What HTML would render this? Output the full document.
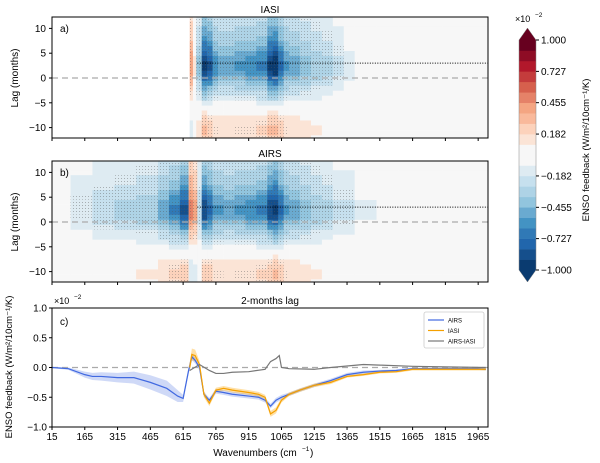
<!DOCTYPE html>
<html><head><meta charset="utf-8"><style>
html,body{margin:0;padding:0;background:#fff;}
svg{display:block;font-family:"Liberation Sans","DejaVu Sans",sans-serif;}
</style></head><body>
<svg id="fig" width="600" height="463" viewBox="0 0 600 463">
<defs>
<pattern id="stip" width="3" height="3" patternUnits="userSpaceOnUse"><circle cx="1.5" cy="1.5" r="0.45" fill="#555"/></pattern>
</defs>
</svg>
<script>
// ---- data ----
const xTicks = [15,165,315,465,615,765,915,1065,1215,1365,1515,1665,1815,1965];
const lagTicks = [10,5,0,-5,-10];
const cTicks = [1.0,0.5,0.0,-0.5,-1.0];
const cbTicks = [1.000,0.727,0.455,0.182,-0.182,-0.455,-0.727,-1.000];
const lags = [-12,-11,-10,-9,-8,-7,-6,-5,-4,-3,-2,-1,0,1,2,3,4,5,6,7,8,9,10,11,12];
const lagProfile = [-0.25,-0.3,-0.3,-0.25,-0.2,-0.1,0,0.15,0.3,0.4,0.5,0.65,0.8,0.95,1.0,1.0,0.95,0.85,0.75,0.68,0.6,0.55,0.5,0.45,0.4];
const iasiEdges = [645,660,675,700,725,750,775,800,850,900,950,1000,1025,1050,1075,1100,1150,1200,1250,1300,1350,1400,1500,1600,1700,1800,1900,2010];
const iasiAmp = [0.45,0.1,-0.4,-0.95,-0.85,-0.6,-0.5,-0.5,-0.55,-0.6,-0.65,-0.95,-1.0,-0.75,-0.55,-0.5,-0.42,-0.35,-0.3,-0.2,-0.12,-0.06,-0.03,-0.02,-0.01,-0.01,-0.01];
const airsEdges = [15,100,200,300,400,500,550,600,640,660,680,700,725,750,800,850,900,950,1000,1025,1050,1075,1100,1150,1200,1250,1300,1400,1500,1600,1800,2010];
const airsAmp = [-0.06,-0.18,-0.25,-0.3,-0.35,-0.5,-0.65,-0.85,0.5,0.4,-0.25,-0.9,-0.75,-0.55,-0.5,-0.55,-0.6,-0.65,-0.9,-0.95,-0.75,-0.55,-0.5,-0.42,-0.35,-0.3,-0.2,-0.1,-0.05,-0.02,-0.01];
const airsWn = [15,90,165,200,240,315,390,465,540,590,615,640,655,670,690,710,735,765,800,840,915,960,990,1015,1040,1065,1100,1150,1215,1290,1365,1440,1515,1590,1665,1740,1815,1890,1965,2000];
const airsVal = [0,-0.02,-0.12,-0.15,-0.15,-0.17,-0.17,-0.25,-0.35,-0.48,-0.52,-0.05,0.18,0.12,0.0,-0.45,-0.55,-0.4,-0.42,-0.45,-0.48,-0.5,-0.55,-0.65,-0.55,-0.5,-0.45,-0.38,-0.3,-0.22,-0.12,-0.08,-0.06,-0.05,-0.02,-0.02,-0.02,-0.02,-0.02,-0.03];
const airsErr = [0.01,0.02,0.05,0.06,0.07,0.08,0.1,0.12,0.13,0.1,0.06,0.06,0.06,0.05,0.05,0.04,0.04,0.04,0.04,0.04,0.04,0.04,0.04,0.04,0.04,0.04,0.03,0.03,0.03,0.03,0.03,0.03,0.02,0.02,0.02,0.02,0.02,0.02,0.02,0.02];
const iasiWn = [645,655,670,690,710,735,765,800,840,915,960,990,1015,1040,1065,1100,1150,1215,1290,1365,1440,1515,1590,1665,1740,1815,1890,1965,2000];
const iasiVal = [0.0,0.22,0.2,0.05,-0.45,-0.6,-0.38,-0.35,-0.38,-0.42,-0.45,-0.5,-0.78,-0.72,-0.55,-0.45,-0.38,-0.3,-0.25,-0.15,-0.12,-0.08,-0.07,-0.03,-0.03,-0.03,-0.03,-0.03,-0.03];
const iasiErr = [0.08,0.1,0.1,0.06,0.05,0.05,0.04,0.04,0.04,0.04,0.04,0.04,0.05,0.05,0.04,0.03,0.03,0.03,0.03,0.02,0.02,0.02,0.02,0.02,0.02,0.02,0.02,0.02,0.02];
const diffWn = [645,690,735,765,800,840,915,990,1015,1040,1055,1065,1100,1215,1290,1440,1515,1665,2000];
const diffVal = [-0.05,0.05,-0.05,-0.1,-0.1,-0.08,-0.07,-0.03,0.1,0.15,0.2,0.0,-0.02,-0.03,0.0,0.05,0.04,0.02,0.0];
const cmap = ['#0a3b70','#154f8c','#2166ac','#3079b6','#4393c3','#6aaad0','#92c5de','#aed3e6','#c6e0ee','#deebf2','#f7f7f7','#f7f7f7','#fbe4d6','#fcd2bb','#f9b99b','#f4a582','#e58268','#d6604d','#c43c3c','#b2182b','#8e0c25','#67001f'];

// ---- helpers ----
const NS='http://www.w3.org/2000/svg';
const svg=document.getElementById('fig');
function el(tag,attrs,parent){const e=document.createElementNS(NS,tag);for(const k in attrs)e.setAttribute(k,attrs[k]);(parent||svg).appendChild(e);return e;}
function txt(s,x,y,attrs,parent){const t=el('text',Object.assign({x:x,y:y,'font-size':10,fill:'#000'},attrs),parent);t.textContent=s;return t;}
const L=52,R=488;
const X=w=>L+(w-15)*(R-L)/(2010-15);
function colorOf(v){let i=Math.floor((v+1)/2*22);i=Math.max(0,Math.min(21,i));return cmap[i];}

function heatPanel(top,edges,amp,name,title,letter){
  const g=el('g',{});
  
  
  const Y=l=>top+61-l*4.96;
  el('rect',{x:L,y:top,width:R-L,height:121,fill:'#fff'},g);
  for(let i=0;i<amp.length;i++){
    for(let j=0;j<lags.length;j++){
      const v=amp[i]*lagProfile[j];
      const x0=X(edges[i]),x1=X(edges[i+1]);
      const y0=Math.max(top,Y(lags[j]+0.5)),y1=Math.min(top+121,Y(lags[j]-0.5));
      const c=el('rect',{x:x0,y:y0,width:x1-x0+0.3,height:y1-y0+0.3,fill:colorOf(v)},g);
      
      
      if(Math.abs(v)>0.15) el('rect',{x:x0,y:y0,width:x1-x0,height:y1-y0,fill:'url(#stip)',opacity:0.6},g);
    }
  }
  const z=el('line',{x1:L,x2:R,y1:Y(0),y2:Y(0),stroke:'#aaa','stroke-width':1.3,'stroke-dasharray':'6,4'},g);
  
  el('line',{x1:X(Math.max(edges[0],680)),x2:R,y1:Y(3),y2:Y(3),stroke:'#000','stroke-width':1,'stroke-dasharray':'1,1.5'},g);
  el('rect',{x:L,y:top,width:R-L,height:121,fill:'none',stroke:'#000','stroke-width':1},g);
  lagTicks.forEach(t=>{el('line',{x1:L-3,x2:L,y1:Y(t),y2:Y(t),stroke:'#000'},g);
    const tl=txt(t<0?'\u2212'+(-t):String(t),L-6,Y(t)+3.5,{'text-anchor':'end'},g);
    });
  xTicks.forEach(t=>el('line',{x1:X(t),x2:X(t),y1:top+121,y2:top+124,stroke:'#000'},g));
  const tt=txt(title,270,top-4,{'text-anchor':'middle'},g);
  const lt=txt(letter,60,top+15,{},g);
  const yl=txt('Lag (months)',0,0,{'text-anchor':'middle',transform:`translate(18,${top+61}) rotate(-90)`},g);
  
}
heatPanel(17,iasiEdges,iasiAmp,'iasi-heatmap-panel','IASI','a)');
heatPanel(161,airsEdges,airsAmp,'airs-heatmap-panel','AIRS','b)');

// ---- panel c ----
const cT=308,cB=427;
const Yc=v=>(cT+cB)/2-v*(cB-cT)/2;
const gc=el('g',{});


function band(wn,val,err,fill,name){
  let d='M'+wn.map((w,i)=>X(w)+','+Yc(val[i]+err[i])).join('L');
  for(let i=wn.length-1;i>=0;i--) d+='L'+X(wn[i])+','+Yc(val[i]-err[i]);
  const p=el('path',{d:d+'Z',fill:fill,stroke:'none'},gc);
  
}
function line(wn,val,col,name){
  const p=el('path',{d:'M'+wn.map((w,i)=>X(w)+','+Yc(val[i])).join('L'),fill:'none',stroke:col,'stroke-width':1.2},gc);
  
}
band(airsWn,airsVal,airsErr,'rgba(65,105,225,0.25)','airs-uncertainty-band');
band(iasiWn,iasiVal,iasiErr,'rgba(255,165,0,0.35)','iasi-uncertainty-band');
const zl=el('line',{x1:L,x2:R,y1:Yc(0),y2:Yc(0),stroke:'#aaa','stroke-width':1.2,'stroke-dasharray':'6,4'},gc);

line(airsWn,airsVal,'#4169e1','airs-line');
line(iasiWn,iasiVal,'#f5a000','iasi-line');
line(diffWn,diffVal,'#777','airs-minus-iasi-line');
el('rect',{x:L,y:cT,width:R-L,height:cB-cT,fill:'none',stroke:'#000'},gc);
cTicks.forEach(t=>{el('line',{x1:L-3,x2:L,y1:Yc(t),y2:Yc(t),stroke:'#000'},gc);
  const s=(t<0?'\u2212':'')+Math.abs(t).toFixed(1);
  const tl=txt(s,L-5,Yc(t)+3.5,{'text-anchor':'end'},gc);});
xTicks.forEach(t=>{el('line',{x1:X(t),x2:X(t),y1:cB,y2:cB+3,stroke:'#000'},gc);
  const tl=txt(String(t),X(t),cB+13,{'text-anchor':'middle'},gc);});
txt('\u00d710',54,304,{'font-size':9},gc);txt('\u22122',74,299,{'font-size':6.5},gc);
const ct=txt('2-months lag',270,304,{'text-anchor':'middle'},gc);
txt('c)',60,325,{},gc);
const xl=txt('Wavenumbers (cm',255,456,{'text-anchor':'middle'},gc);
txt('\u22121',302,451,{'font-size':6.5},gc);txt(')',310,456,{},gc);
const cyl=txt('ENSO feedback (W/m\u00b2/10cm\u207b\u00b9/K)',0,0,{'text-anchor':'middle',transform:'translate(12,367) rotate(-90)','font-size':9.5},gc);

// legend
const lg=el('g',{});
el('rect',{x:424,y:312,width:60,height:36,fill:'#fff',stroke:'#ccc','stroke-width':0.8,rx:2},lg);
[['AIRS','#4169e1'],['IASI','#f5a000'],['AIRS-IASI','#777']].forEach((e,i)=>{
  const y=320+i*10.5;
  const le=el('g',{},lg);
  el('line',{x1:428,x2:444,y1:y,y2:y,stroke:e[1],'stroke-width':1.2},le);
  txt(e[0],448,y+2.5,{'font-size':6},le);
});

// ---- colorbar ----
const cb=el('g',{});
const cbY=v=>155-v*115;
for(let i=0;i<22;i++){const v0=-1+i*2/22,v1=v0+2/22;
  el('rect',{x:519,y:cbY(v1),width:17,height:cbY(v0)-cbY(v1)+0.3,fill:cmap[i]},cb);}
el('path',{d:`M519,${cbY(1)} L527.5,28 L536,${cbY(1)} Z`,fill:cmap[21]},cb);
el('path',{d:`M519,${cbY(-1)} L527.5,282 L536,${cbY(-1)} Z`,fill:cmap[0]},cb);
el('path',{d:`M519,${cbY(1)} L527.5,28 L536,${cbY(1)} L536,${cbY(-1)} L527.5,282 L519,${cbY(-1)} Z`,fill:'none',stroke:'#888','stroke-width':0.5},cb);
cbTicks.forEach(t=>{el('line',{x1:536,x2:539,y1:cbY(t),y2:cbY(t),stroke:'#000'},cb);
  const tl=txt((t<0?'\u2212':'')+Math.abs(t).toFixed(3),541,cbY(t)+3.5,{},cb);});
txt('\u00d710',515,22,{'font-size':9},cb);txt('\u22122',535,17,{'font-size':6.5},cb);
const cl=txt('ENSO feedback (W/m\u00b2/10cm\u207b\u00b9/K)',0,0,{'text-anchor':'middle',transform:'translate(589,150) rotate(-90)','font-size':9.5},cb);

</script>
</body></html>
